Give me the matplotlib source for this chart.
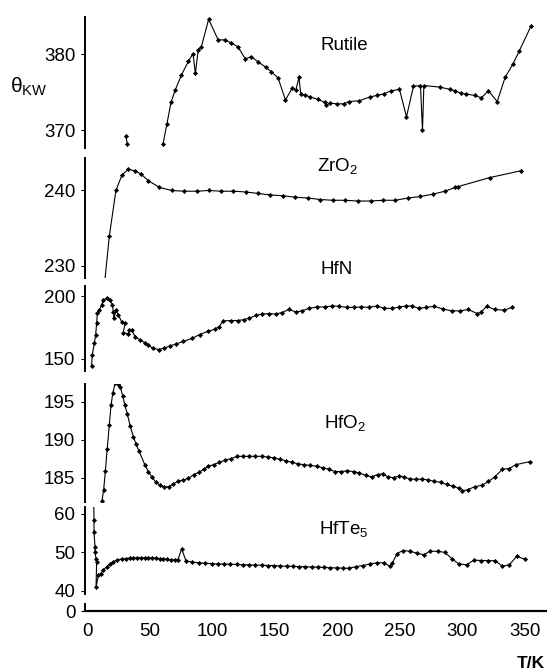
import matplotlib.pyplot as plt
import numpy as np

plt.rcParams['font.family'] = ['Liberation Sans', 'DejaVu Sans']
plt.rcParams['mathtext.default'] = 'regular'

nan = np.nan

# temperatures (K) and Debye temperatures
rutile_t = [30.9, 32.3, nan, 60.7, 63.8, 67.1, 70.5, 75.5, 81.1, 84.7, 86.6, 88.9, 91.4, 97.2,
            104.8, 110.3, 115.1, 120.6, 126.5, 131.2, 136.8, 142.9, 147.4, 152.7, 158.6, 164.1,
            166.9, 169.4, 170.8, 174.5, 178.6, 184.2, 189.8, 191.2, 194.0, 199.5, 205.1, 209.3,
            217.7, 226.0, 231.6, 237.2, 242.8, 249.7, 255.3, 260.9, 266.5, 268.1, 269.2, 281.8,
            290.1, 294.3, 298.5, 302.7, 309.7, 315.2, 320.8, 327.8, 334.2, 340.3, 345.3, 354.8]
rutile_v = [369.3, 368.2, nan, 368.2, 370.8, 373.7, 375.3, 377.3, 379.1, 380.1, 377.5, 380.6,
            381.0, 384.6, 381.9, 381.9, 381.5, 381.0, 379.4, 379.7, 379.0, 378.3, 377.7, 376.9,
            374.0, 375.6, 375.3, 377.0, 374.8, 374.6, 374.4, 374.1, 373.7, 373.3, 373.6, 373.5,
            373.5, 373.8, 373.9, 374.4, 374.6, 374.8, 375.2, 375.4, 371.8, 375.8, 375.9, 370.0,
            375.9, 375.7, 375.4, 375.2, 374.9, 374.8, 374.6, 374.3, 375.2, 373.8, 377.0, 378.7,
            380.4, 383.7]

zro2_t = [13.0, 17.8, 23.1, 28.1, 33.1, 38.4, 42.9, 49.0, 57.9, 67.7, 77.7, 88.0, 97.2, 107.0,
          116.7, 127.0, 136.8, 146.6, 156.9, 166.6, 176.4, 186.4, 196.2, 206.0, 216.3, 226.6,
          236.6, 246.4, 256.7, 266.5, 276.2, 286.0, 294.3, 296.3, 321.7, 346.5]
zro2_v = [226.0, 233.9, 240.0, 242.1, 242.8, 242.6, 242.2, 241.3, 240.4, 240.0, 239.9, 239.9,
          240.0, 239.9, 239.9, 239.8, 239.6, 239.4, 239.3, 239.1, 239.0, 238.8, 238.7, 238.7,
          238.6, 238.6, 238.7, 238.7, 239.0, 239.2, 239.5, 239.9, 240.4, 240.5, 241.7, 242.6]

hfn_t = [3.6, 4.2, 5.9, 6.9, 7.7, 8.3, 9.9, 11.7, 13.1, 15.7, 18.4, 20.3, 21.0, 21.6, 23.2, 25.0,
         27.7, 30.4, 29.0, 33.0, 33.8, 35.7, 38.4, 42.4, 46.3, 49.0, 52.5, 57.4, 61.5, 66.3, 71.3,
         76.9, 83.8, 90.0, 96.4, 102.0, 105.6, 108.9, 115.1, 120.6, 125.7, 129.8, 135.4, 140.2,
         145.2, 150.7, 155.8, 161.3, 166.9, 171.7, 177.8, 183.6, 189.8, 195.9, 201.5, 207.9,
         213.5, 219.1, 225.5, 231.6, 237.2, 244.1, 249.7, 255.3, 259.5, 265.1, 271.2, 277.6,
         284.6, 291.5, 298.0, 304.6, 311.9, 315.2, 319.4, 325.8, 333.4, 339.8]
hfn_v = [144.0, 153.2, 162.5, 169.0, 178.4, 186.4, 189.0, 193.0, 197.0, 198.3, 197.0, 193.0,
         187.7, 182.4, 189.0, 185.0, 179.7, 178.4, 171.0, 170.0, 173.0, 173.0, 167.8, 165.1,
         163.0, 161.1, 158.5, 157.5, 158.6, 160.3, 162.0, 163.9, 166.4, 169.4, 171.9, 173.6,
         175.8, 180.3, 180.6, 180.6, 181.4, 182.5, 184.7, 185.8, 186.1, 185.8, 186.9, 189.4,
         187.5, 188.3, 190.3, 191.4, 191.4, 192.2, 191.9, 191.1, 191.1, 191.4, 191.1, 192.2,
         190.3, 190.3, 191.4, 192.2, 192.2, 190.3, 191.1, 191.9, 189.7, 188.3, 188.3, 189.4,
         186.1, 187.5, 191.9, 189.4, 188.9, 191.1]

hfo2_t = [11.9, 13.3, 14.7, 16.1, 17.8, 19.2, 20.6, 22.5, 24.5, 26.7, 28.6, 30.3, 32.3, 34.5,
          37.0, 39.2, 41.5, 46.2, 49.0, 51.8, 55.1, 58.2, 61.5, 65.2, 69.1, 72.7, 76.9, 81.1,
          85.2, 89.4, 93.6, 96.9, 101.1, 105.6, 110.3, 115.1, 120.1, 124.8, 129.8, 134.6, 139.6,
          144.6, 149.4, 154.4, 159.1, 164.1, 168.9, 173.6, 178.6, 183.4, 188.4, 193.1, 198.1,
          203.2, 207.9, 213.0, 217.7, 222.7, 227.4, 232.2, 236.3, 240.5, 245.0, 249.2, 253.3,
          258.1, 262.8, 267.8, 272.9, 277.6, 282.6, 287.4, 292.1, 297.1, 299.9, 304.1, 309.7,
          315.8, 320.8, 325.8, 332.0, 337.5, 342.6, 353.7]
hfo2_v = [181.9, 183.4, 185.9, 188.7, 191.9, 194.5, 196.1, 197.4, 197.3, 196.9, 195.7, 194.5,
          193.3, 191.8, 190.4, 189.4, 188.5, 186.7, 185.8, 185.1, 184.4, 184.0, 183.8, 183.8,
          184.2, 184.5, 184.7, 184.9, 185.4, 185.7, 186.1, 186.5, 186.7, 187.0, 187.3, 187.5,
          187.8, 187.8, 187.8, 187.8, 187.8, 187.7, 187.6, 187.4, 187.2, 187.0, 186.8, 186.7,
          186.6, 186.5, 186.3, 186.1, 185.8, 185.8, 185.9, 185.8, 185.6, 185.3, 185.1, 185.4,
          185.5, 185.1, 185.0, 185.2, 185.1, 184.8, 184.8, 184.8, 184.7, 184.5, 184.4, 184.1,
          183.9, 183.6, 183.3, 183.4, 183.8, 184.0, 184.5, 185.1, 186.1, 186.2, 186.7, 187.1]

hfte5_t = [5.4, 5.6, 5.6, 6.4, 6.4, 7.2, 7.7, 7.2, 9.0, 10.9, 13.0, 15.7, 18.4, 21.0, 24.2, 27.7,
           31.0, 34.0, 37.0, 40.0, 43.0, 46.0, 49.0, 52.0, 55.0, 58.0, 61.0, 64.0, 67.0, 70.0,
           72.5, 75.7, 79.1, 83.8, 89.4, 94.5, 99.5, 104.5, 109.5, 114.5, 119.5, 124.5, 129.5,
           134.5, 139.5, 144.5, 149.5, 154.5, 159.5, 164.5, 169.5, 174.5, 179.5, 184.5, 189.5,
           194.5, 199.5, 204.5, 209.3, 214.9, 220.5, 226.0, 231.6, 237.2, 242.2, 244.1, 247.8,
           252.5, 258.1, 263.7, 269.2, 274.0, 280.4, 286.0, 291.5, 297.1, 303.5, 309.1, 315.2,
           320.8, 326.4, 332.0, 337.5, 343.5, 350.0]
hfte5_v = [63.0, 58.3, 55.3, 51.4, 50.2, 48.4, 47.6, 40.9, 44.1, 44.5, 45.4, 46.3, 47.0, 47.6,
           48.0, 48.3, 48.4, 48.5, 48.5, 48.6, 48.6, 48.6, 48.6, 48.5, 48.5, 48.4, 48.3, 48.2,
           48.1, 48.1, 48.0, 50.9, 47.8, 47.5, 47.3, 47.2, 47.1, 47.0, 47.0, 46.9, 46.9, 46.8,
           46.8, 46.7, 46.7, 46.6, 46.6, 46.5, 46.4, 46.4, 46.3, 46.3, 46.2, 46.2, 46.1, 46.0,
           46.0, 45.9, 45.9, 46.3, 46.6, 47.0, 47.3, 47.3, 46.4, 47.3, 49.7, 50.5, 50.3, 49.8,
           49.4, 50.3, 50.3, 50.0, 48.4, 47.0, 46.8, 48.0, 47.9, 47.9, 47.8, 46.4, 46.8, 49.0,
           48.2]

x_ticks = [0, 50, 100, 150, 200, 250, 300, 350]

W, H = 547, 671
fig = plt.figure(figsize=(W / 100, H / 100), dpi=100)


def panel(top, bottom):
    # one strip of the stack, placed in pixels; only the left spine shows
    ax = fig.add_axes([85 / W, 1 - bottom / H, 1 - 85 / W, (bottom - top) / H])
    ax.set_xlim(-1.6, 367.6)
    for s in ['top', 'right', 'bottom']:
        ax.spines[s].set_visible(False)
    ax.spines['left'].set_linewidth(1.4)
    ax.tick_params(axis='x', bottom=False, labelbottom=False)
    ax.tick_params(axis='y', length=3, width=0.8, pad=4, labelsize=13.5)
    ax.patch.set_visible(False)
    return ax


panels = [
    (17, 148, (367.7, 384.9), [370, 380], rutile_t, rutile_v, 'Rutile', (344, 45)),
    (158, 278, (228.4, 244.3), [230, 240], zro2_t, zro2_v, 'ZrO$_2$', (338, 166)),
    (286, 371, (140.4, 208.1), [150, 200], hfn_t, hfn_v, 'HfN', (337, 269)),
    (384, 502, (181.8, 197.3), [185, 190, 195], hfo2_t, hfo2_v, 'HfO$_2$', (345, 423)),
    (507, 594, (39.2, 61.8), [40, 50, 60], hfte5_t, hfte5_v, 'HfTe$_5$', (344, 529)),
]

for top, bottom, ylim, yticks, t, v, name, (lx, ly) in panels:
    ax = panel(top, bottom)
    ax.plot(t, v, '-', color='black', lw=0.8, marker='D', ms=2.1,
            mfc='black', mec='black', mew=0.5)
    ax.set_ylim(*ylim)
    ax.set_yticks(yticks)
    fig.text(lx / W, 1 - ly / H, name, fontsize=13.5, ha='center', va='center')

# broken axis stub with the zero and the temperature axis
ax0 = panel(604, 611)
ax0.set_ylim(0, 1)
ax0.set_yticks([0])
ax0.spines['bottom'].set_visible(True)
ax0.spines['bottom'].set_linewidth(1.6)
ax0.set_xticks(x_ticks)
ax0.tick_params(axis='x', bottom=True, labelbottom=True, length=0, pad=9, labelsize=13.5)

fig.text(10 / W, 1 - 87 / H, 'θ$_{KW}$', fontsize=15, ha='left', va='center')
fig.text(545 / W, 1 - 663 / H, 'T/K', fontsize=12.5, fontweight='bold', ha='right', va='center')

fig.savefig('out.png', dpi=100)
